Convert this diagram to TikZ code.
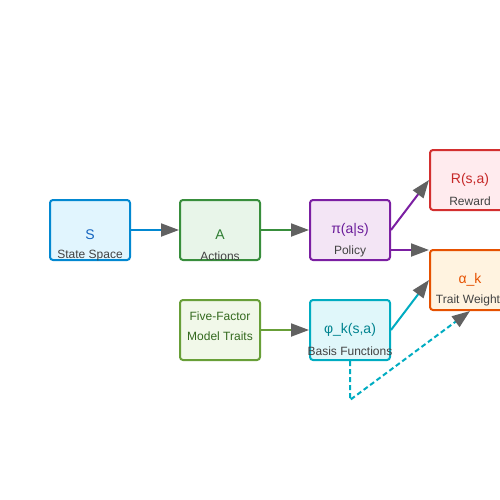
\documentclass[tikz,border=0pt]{standalone}
\usepackage{fontspec}
\setmainfont{Liberation Sans}
\usetikzlibrary{arrows.meta}

\definecolor{arrowgray}{HTML}{616161}
\definecolor{subgray}{HTML}{424242}

\tikzset{
  box/.style = {rectangle, rounded corners = 3pt, line width = 2pt,
    minimum width = 80pt, minimum height = 60pt, inner sep = 0pt},
  mainlbl/.style = {font = \fontsize{14}{16}\selectfont, inner sep = 0pt},
  sublbl/.style = {font = \fontsize{12}{14}\selectfont, text = subgray, inner sep = 0pt},
  link/.style = {line width = 2pt, -{Triangle[length = 18pt, width = 13pt, color = arrowgray]}}
}

\begin{document}
\begin{tikzpicture}[x = 1pt, y = -1pt]
  \useasboundingbox (0, 0) rectangle (500, 500);
  \clip (0, 0) rectangle (500, 500);

  \node[box, draw = {rgb,255:red,2;green,136;blue,209}, fill = {rgb,255:red,225;green,245;blue,254}] (s) at (90, 230) {};
  \node[box, draw = {rgb,255:red,56;green,142;blue,60}, fill = {rgb,255:red,232;green,245;blue,233}] (a) at (220, 230) {};
  \node[box, draw = {rgb,255:red,123;green,31;blue,162}, fill = {rgb,255:red,243;green,229;blue,245}] (policy) at (350, 230) {};
  \node[box, draw = {rgb,255:red,211;green,47;blue,47}, fill = {rgb,255:red,255;green,235;blue,238}] (reward) at (470, 180) {};
  \node[box, draw = {rgb,255:red,230;green,81;blue,0}, fill = {rgb,255:red,255;green,243;blue,224}] (weight) at (470, 280) {};
  \node[box, draw = {rgb,255:red,104;green,159;blue,56}, fill = {rgb,255:red,241;green,248;blue,233}] (traits) at (220, 330) {};
  \node[box, draw = {rgb,255:red,0;green,172;blue,193}, fill = {rgb,255:red,224;green,247;blue,250}] (basis) at (350, 330) {};

  \node[mainlbl, text = {rgb,255:red,21;green,101;blue,192}] (s-main) at (90, 235) {S};
  \node[sublbl] (s-sub) at (90, 256) {State Space};
  \node[mainlbl, text = {rgb,255:red,46;green,125;blue,50}] (a-main) at (220, 235) {A};
  \node[sublbl] (a-sub) at (220, 256) {Actions};
  \node[mainlbl, text = {rgb,255:red,106;green,27;blue,154}] (policy-main) at (350, 230) {π(a|s)};
  \node[sublbl] (policy-sub) at (350, 251) {Policy};
  \node[mainlbl, text = {rgb,255:red,198;green,40;blue,40}] (reward-main) at (470, 180) {R(s,a)};
  \node[sublbl] (reward-sub) at (470, 201) {Reward};
  \node[mainlbl, text = {rgb,255:red,230;green,81;blue,0}] (weight-main) at (470, 280) {α\_k};
  \node[sublbl] (weight-sub) at (468, 300) {Trait Weight};
  \node[sublbl, text = {rgb,255:red,51;green,105;blue,30}] (traits-top) at (220, 316) {Five-Factor};
  \node[sublbl, text = {rgb,255:red,51;green,105;blue,30}] (traits-bot) at (220, 336) {Model Traits};
  \node[mainlbl, text = {rgb,255:red,0;green,131;blue,143}] (basis-main) at (350, 330) {φ\_k(s,a)};
  \node[sublbl] (basis-sub) at (350, 351) {Basis Functions};

  \coordinate (bend) at (350, 400);

  \draw[link, draw = {rgb,255:red,2;green,136;blue,209}] (s.east) -- (a.west);
  \draw[link, draw = {rgb,255:red,56;green,142;blue,60}] (a.east) -- (policy.west);
  \draw[link, draw = {rgb,255:red,123;green,31;blue,162}] (policy.east) -- (reward.west);
  \draw[link, draw = {rgb,255:red,123;green,31;blue,162}] ([yshift = -20pt]policy.east) -- ([yshift = 30pt]weight.west);
  \draw[link, draw = {rgb,255:red,104;green,159;blue,56}] (traits.east) -- (basis.west);
  \draw[link, draw = {rgb,255:red,0;green,172;blue,193}] (basis.east) -- (weight.west);
  \draw[link, draw = {rgb,255:red,0;green,172;blue,193}, dash pattern = on 5pt off 3pt] (basis.south) -- (bend) -- (weight.south);
\end{tikzpicture}
\end{document}
